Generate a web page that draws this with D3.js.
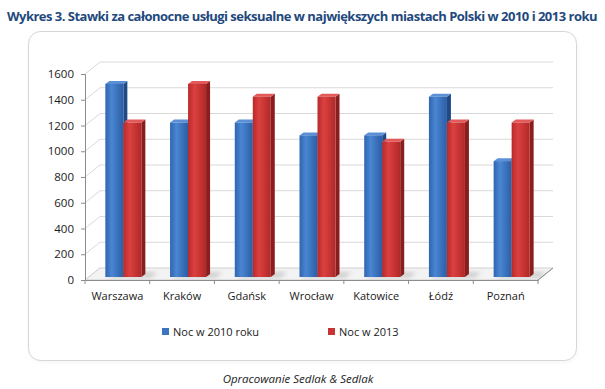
<!DOCTYPE html>
<html>
<head>
<meta charset="utf-8">
<script src="https://cdn.jsdelivr.net/npm/d3@7"></script>
<style>
  body { margin: 0; background: #fff; }
  text { font-family: "Open Sans", "DejaVu Sans", sans-serif; }
</style>
</head>
<body>
<div id="chart"></div>
<script>
// dane
const cities = ["Warszawa", "Kraków", "Gdańsk", "Wrocław", "Katowice", "Łódź", "Poznań"];
const night2010 = [1500, 1200, 1200, 1100, 1100, 1400, 900];
const night2013 = [1200, 1500, 1400, 1400, 1050, 1200, 1200];
const seriesNames = ["Noc w 2010 roku", "Noc w 2013"];
const yTicks = [0, 200, 400, 600, 800, 1000, 1200, 1400, 1600];

const width = 605;
const height = 389;

// głębokość 3D
const depthX = 15, depthY = -12;
const barShiftX = 6, barShiftY = -3;
const capX = 4, capY = -3;

const svg = d3.select("#chart")
    .append("svg")
    .attr("width", width)
    .attr("height", height);

const defs = svg.append("defs");

function grad(id, stops) {
    const g = defs.append("linearGradient").attr("id", id)
        .attr("x1", 0).attr("y1", 0).attr("x2", 1).attr("y2", 0);
    stops.forEach(s => g.append("stop").attr("offset", s[0]).attr("stop-color", s[1]));
}
grad("blueFront", [[0, "#2f64b0"], [0.35, "#4a86d2"], [1, "#2b5ea6"]]);
grad("redFront", [[0, "#b82a2a"], [0.35, "#dc4040"], [1, "#b02828"]]);

const shadow = defs.append("filter").attr("id", "soft")
    .attr("x", "-20%").attr("y", "-20%").attr("width", "140%").attr("height", "140%");
shadow.append("feGaussianBlur").attr("stdDeviation", 2);

const colors = [
    { front: "url(#blueFront)", side: "#1f4a85", top: "#5c90d6" },
    { front: "url(#redFront)", side: "#8a1d1d", top: "#e25a5a" }
];

// tytuł - dopasowanie szerokości przez odstęp liter
const titleText = "Wykres 3. Stawki za całonocne usługi seksualne w największych miastach Polski w 2010 i 2013 roku";
const title = svg.append("text")
    .attr("x", 302)
    .attr("y", 21)
    .attr("text-anchor", "middle")
    .style("font-size", "13px")
    .style("font-weight", "bold")
    .style("fill", "#1f497d")
    .text(titleText);
const natural = title.node().getComputedTextLength();
if (natural > 590) {
    title.style("letter-spacing", ((590 - natural) / titleText.length) + "px");
}

// ramka wykresu
svg.append("rect")
    .attr("x", 29).attr("y", 33)
    .attr("width", 548).attr("height", 329)
    .attr("rx", 12)
    .attr("fill", "#f4f4f4")
    .attr("filter", "url(#soft)");
svg.append("rect")
    .attr("x", 28.5).attr("y", 31.5)
    .attr("width", 548).attr("height", 329)
    .attr("rx", 12)
    .attr("fill", "#fff")
    .attr("stroke", "#d6d6d6");

// skale
const xScale = d3.scaleBand()
    .domain(cities)
    .range([85, 538]);

const yScale = d3.scaleLinear()
    .domain([0, 1600])
    .range([280, 74]);

const x0 = xScale.range()[0], x1 = xScale.range()[1];

// siatka na tylnej ścianie i ścianie bocznej
const grid = svg.append("g");
yTicks.forEach(t => {
    const y = yScale(t);
    if (t > 0) {
        grid.append("line")
            .attr("x1", x0 + depthX).attr("x2", x1 + depthX)
            .attr("y1", y + depthY).attr("y2", y + depthY)
            .attr("stroke", "#d9d9d9");
    }
    grid.append("line")
        .attr("x1", x0).attr("x2", x0 + depthX)
        .attr("y1", y).attr("y2", y + depthY)
        .attr("stroke", "#d9d9d9");
});

// podłoga
const floorY = yScale(0);
svg.append("path")
    .attr("d", `M${x0},${floorY}L${x1},${floorY}L${x1 + depthX},${floorY + depthY}L${x0 + depthX},${floorY + depthY}Z`)
    .attr("fill", "#f3f3f3")
    .attr("stroke", "#d0d0d0");

// słupki
const bw = 18;
const pad = (xScale.bandwidth() - 2 * bw) / 2;
const seriesData = [night2010, night2013];

const bars = svg.append("g");
cities.forEach((c, i) => {
    const gx = xScale(c) + pad + barShiftX;
    // cień pod słupkami
    bars.append("path")
        .attr("d", `M${gx + 2},${floorY + barShiftY + 1}L${gx + 2 * bw + capX + 6},${floorY + barShiftY + 1}L${gx + 2 * bw + capX + 12},${floorY + barShiftY - 5}L${gx + 8},${floorY + barShiftY - 5}Z`)
        .attr("fill", "#b8b8b8")
        .attr("opacity", 0.6)
        .attr("filter", "url(#soft)");
    seriesData.forEach((vals, s) => {
        const bx = gx + s * bw;
        const yt = yScale(vals[i]) + barShiftY;
        const yb = floorY + barShiftY;
        const col = colors[s];
        // bok
        bars.append("path")
            .attr("d", `M${bx + bw},${yt}L${bx + bw + capX},${yt + capY}L${bx + bw + capX},${yb + capY}L${bx + bw},${yb}Z`)
            .attr("fill", col.side);
        // góra
        bars.append("path")
            .attr("d", `M${bx},${yt}L${bx + capX},${yt + capY}L${bx + bw + capX},${yt + capY}L${bx + bw},${yt}Z`)
            .attr("fill", col.top);
        // przód
        bars.append("rect")
            .attr("x", bx).attr("y", yt)
            .attr("width", bw).attr("height", yb - yt)
            .attr("fill", col.front);
    });
});

// oś Y
const yAxis = svg.append("g")
    .attr("transform", `translate(${x0},0)`)
    .call(d3.axisLeft(yScale).tickValues(yTicks).tickSize(4).tickPadding(7).tickFormat(d3.format("d")));
yAxis.select(".domain").attr("stroke", "#8c8c8c");
yAxis.selectAll(".tick line").attr("stroke", "#8c8c8c");
yAxis.selectAll("text")
    .style("font-size", "11.5px")
    .style("fill", "#1a1a1a")
    .style("font-family", "'Open Sans', sans-serif");

// oś X
const xAxis = svg.append("g")
    .attr("transform", `translate(0,${floorY})`)
    .call(d3.axisBottom(xScale).tickSize(0).tickPadding(12));
xAxis.select(".domain").attr("stroke", "#8c8c8c");
xAxis.selectAll("text")
    .style("font-size", "11px")
    .style("fill", "#1a1a1a")
    .style("font-family", "'Open Sans', sans-serif");
// znaczniki między kategoriami
const boundaries = cities.map(c => xScale(c)).concat([x1]);
xAxis.selectAll(".sep")
    .data(boundaries)
    .enter().append("line")
    .attr("class", "sep")
    .attr("x1", d => d).attr("x2", d => d)
    .attr("y1", 0).attr("y2", 4)
    .attr("stroke", "#8c8c8c");
svg.append("line")
    .attr("x1", x1).attr("y1", floorY)
    .attr("x2", x1 + depthX).attr("y2", floorY + depthY)
    .attr("stroke", "#8c8c8c");

// legenda
const legendX = [162, 328];
const legend = svg.append("g");
seriesNames.forEach((name, s) => {
    legend.append("rect")
        .attr("x", legendX[s]).attr("y", 328)
        .attr("width", 7).attr("height", 7)
        .attr("fill", s === 0 ? "#3b74c0" : "#c83434");
    legend.append("text")
        .attr("x", legendX[s] + 11)
        .attr("y", 336)
        .style("font-size", "11px")
        .style("fill", "#1a1a1a")
        .text(name);
});

// źródło
svg.append("text")
    .attr("x", 298)
    .attr("y", 383)
    .attr("text-anchor", "middle")
    .style("font-size", "11.5px")
    .style("font-style", "italic")
    .style("fill", "#1a1a1a")
    .text("Opracowanie Sedlak & Sedlak");
</script>
</body>
</html>
